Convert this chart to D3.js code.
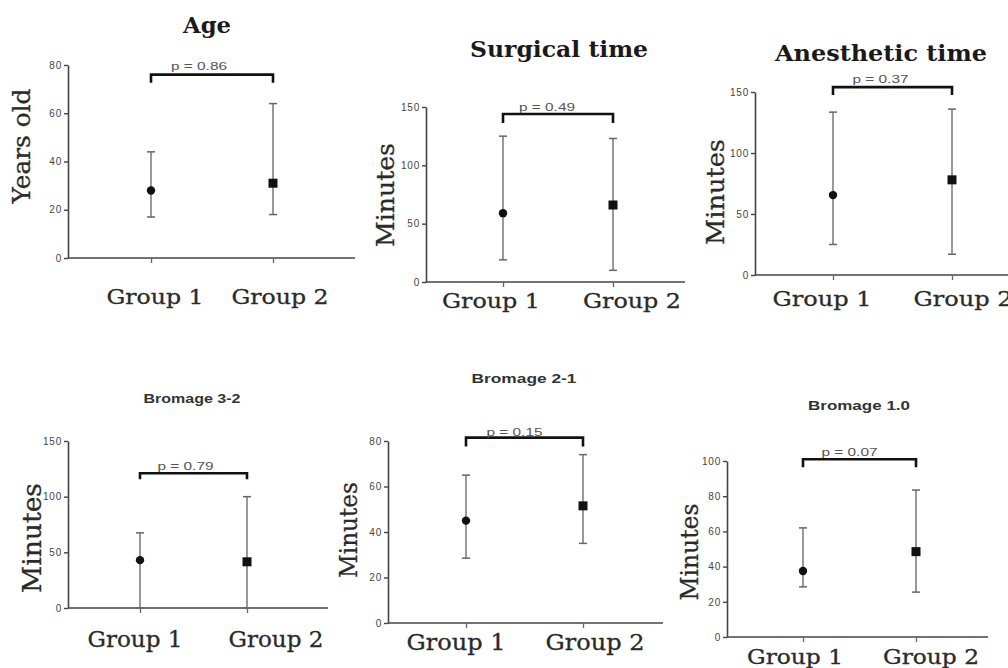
<!DOCTYPE html>
<html><head><meta charset="utf-8">
<script src="https://cdn.jsdelivr.net/npm/d3@7"></script>
<style>html,body{margin:0;padding:0;background:#fff;}svg{display:block;}</style>
</head><body>
<svg id="chart" width="1008" height="668"></svg>
<script>
// ---- data ----
const categories = ["Group 1", "Group 2"];
const titles = ["Age", "Surgical time", "Anesthetic time", "Bromage 3-2", "Bromage 2-1", "Bromage 1.0"];
const yTitles = ["Years old", "Minutes", "Minutes", "Minutes", "Minutes", "Minutes"];
const yMax = [80, 150, 150, 150, 80, 100];
const yTicks = [[0, 20, 40, 60, 80], [0, 50, 100, 150], [0, 50, 100, 150], [0, 50, 100, 150], [0, 20, 40, 60, 80], [0, 20, 40, 60, 80, 100]];
const group1Mean = [28, 59, 65.5, 43, 45, 37.5];
const group1Low = [17, 19, 25, 0, 28.5, 28.5];
const group1High = [44, 125, 133.5, 67.5, 65, 62];
const group2Mean = [31, 66, 78, 41.5, 51.5, 48.5];
const group2Low = [18, 10, 17, 0, 35, 25.5];
const group2High = [64, 123, 136, 100, 74, 83.5];
const pLabels = ["p = 0.86", "p = 0.49", "p = 0.37", "p = 0.79", "p = 0.15", "p = 0.07"];
const bracketLevel = [76, 144, 154, 121, 81.5, 101];

// ---- layout (positions only) ----
const layout = [
  {ax: 68, right: 355, base: 258, top: 65, g: [151, 273], labDx: [4, 7], labY: 304, labW: 97, labSize: 21,
   t: {x: 207, y: 33, w: 48, size: 23, serif: true}, yl: {x: 22, y: 146, w: 115, size: 24}, pDx: -13, pY: -5, leg: 8},
  {ax: 426, right: 685, base: 282, top: 107, g: [503, 613], labDx: [-12, 19], labY: 308, labW: 98, labSize: 21,
   t: {x: 559, y: 57, w: 178, size: 23, serif: true}, yl: {x: 385, y: 195, w: 104, size: 25}, pDx: -11, pY: -3, leg: 9},
  {ax: 755, right: 1008, base: 275, top: 92, g: [833, 952], labDx: [-11, 11], labY: 306, labW: 99, labSize: 21,
   t: {x: 881, y: 61, w: 212, size: 23, serif: true}, yl: {x: 715, y: 192, w: 106, size: 25}, pDx: -12, pY: -4, leg: 8},
  {ax: 68, right: 328, base: 608, top: 441, g: [140, 247], labDx: [-5, 29], labY: 647, labW: 95, labSize: 22,
   t: {x: 192, y: 403, w: 97, size: 12, serif: false}, yl: {x: 32, y: 538, w: 110, size: 26}, pDx: -8, pY: -3, leg: 6},
  {ax: 388, right: 663, base: 623, top: 441, g: [466, 583], labDx: [-10, 12], labY: 650, labW: 99, labSize: 22,
   t: {x: 524, y: 383, w: 105, size: 12, serif: false}, yl: {x: 348, y: 530, w: 96, size: 25}, pDx: -10, pY: -2, leg: 9},
  {ax: 727, right: 988, base: 637, top: 461, g: [803, 916], labDx: [-8, 15], labY: 664, labW: 96, labSize: 20,
   t: {x: 859, y: 410, w: 102, size: 12, serif: false}, yl: {x: 689, y: 552, w: 97, size: 25}, pDx: -10, pY: -3, leg: 8}
];

const svg = d3.select("#chart");
const serif = "'DejaVu Serif', 'Liberation Serif', serif";
const sans = "'Liberation Sans', Arial, sans-serif";

titles.forEach((title, i) => {
  const L = layout[i];
  const g = svg.append("g");
  const y = d3.scaleLinear().domain([0, yMax[i]]).range([L.base, L.top]);
  const x = d3.scalePoint().domain(categories).range(L.g);

  // title
  g.append("text").attr("x", L.t.x).attr("y", L.t.y)
    .attr("text-anchor", "middle")
    .attr("font-family", L.t.serif ? serif : sans)
    .attr("font-weight", "bold").attr("font-size", L.t.size)
    .attr("fill", L.t.serif ? "#1a1a1a" : "#333")
    .attr("textLength", L.t.w).attr("lengthAdjust", "spacingAndGlyphs")
    .text(title);

  // y axis
  const yAxis = g.append("g").attr("transform", `translate(${L.ax},0)`)
    .call(d3.axisLeft(y).tickValues(yTicks[i]).tickSize(4).tickSizeOuter(0).tickPadding(2));
  yAxis.select(".domain").attr("stroke", "#444").attr("stroke-width", 1.6);
  yAxis.selectAll(".tick line").attr("stroke", "#444").attr("stroke-width", 1.4);
  yAxis.selectAll(".tick text").attr("font-family", sans).attr("font-size", 10)
    .attr("fill", "#444").attr("letter-spacing", "0.8px");

  // x axis
  g.append("line").attr("x1", L.ax).attr("x2", L.right).attr("y1", L.base).attr("y2", L.base)
    .attr("stroke", "#444").attr("stroke-width", 1.6);
  const xAxis = g.append("g").attr("transform", `translate(0,${L.base})`)
    .call(d3.axisBottom(x).tickSize(5).tickFormat(""));
  xAxis.select(".domain").remove();
  xAxis.selectAll(".tick line").attr("stroke", "#666").attr("stroke-width", 1.3);

  // group labels
  categories.forEach((c, k) => {
    g.append("text").attr("x", x(c) + L.labDx[k]).attr("y", L.labY)
      .attr("text-anchor", "middle").attr("font-family", serif)
      .attr("font-size", L.labSize).attr("fill", "#2a2a2a")
      .attr("stroke", "#2a2a2a").attr("stroke-width", 0.3)
      .attr("textLength", L.labW).attr("lengthAdjust", "spacingAndGlyphs")
      .text(c);
  });

  // y label
  g.append("text").attr("transform", `translate(${L.yl.x},${L.yl.y}) rotate(-90)`)
    .attr("text-anchor", "middle").attr("dominant-baseline", "central")
    .attr("font-family", serif).attr("font-size", L.yl.size).attr("fill", "#2a2a2a")
    .attr("stroke", "#2a2a2a").attr("stroke-width", 0.3)
    .attr("textLength", L.yl.w).attr("lengthAdjust", "spacingAndGlyphs")
    .text(yTitles[i]);

  // error bars
  const stats = [
    {c: categories[0], m: group1Mean[i], lo: group1Low[i], hi: group1High[i]},
    {c: categories[1], m: group2Mean[i], lo: group2Low[i], hi: group2High[i]}
  ];
  stats.forEach((s, k) => {
    const cx = x(s.c);
    g.append("line").attr("x1", cx).attr("x2", cx).attr("y1", y(s.lo)).attr("y2", y(s.hi))
      .attr("stroke", "#777").attr("stroke-width", 1.5);
    [s.lo, s.hi].forEach(v => {
      g.append("line").attr("x1", cx - 4).attr("x2", cx + 4).attr("y1", y(v)).attr("y2", y(v))
        .attr("stroke", "#666").attr("stroke-width", 1.5);
    });
    if (k === 0) {
      g.append("circle").attr("cx", cx).attr("cy", y(s.m)).attr("r", 4.2).attr("fill", "#111");
    } else {
      g.append("rect").attr("x", cx - 4.5).attr("y", y(s.m) - 4.5).attr("width", 9).attr("height", 9).attr("fill", "#111");
    }
  });

  // significance bracket
  const by = y(bracketLevel[i]);
  const x1 = x(categories[0]), x2 = x(categories[1]);
  g.append("path")
    .attr("d", `M${x1},${by + L.leg}V${by}H${x2}V${by + L.leg}`)
    .attr("fill", "none").attr("stroke", "#111").attr("stroke-width", 2.6);
  g.append("text").attr("x", (x1 + x2) / 2 + L.pDx).attr("y", by + L.pY)
    .attr("text-anchor", "middle").attr("font-family", sans).attr("font-size", 11)
    .attr("fill", "#555").attr("textLength", 56).attr("lengthAdjust", "spacingAndGlyphs")
    .text(pLabels[i]);
});
</script>
</body></html>
